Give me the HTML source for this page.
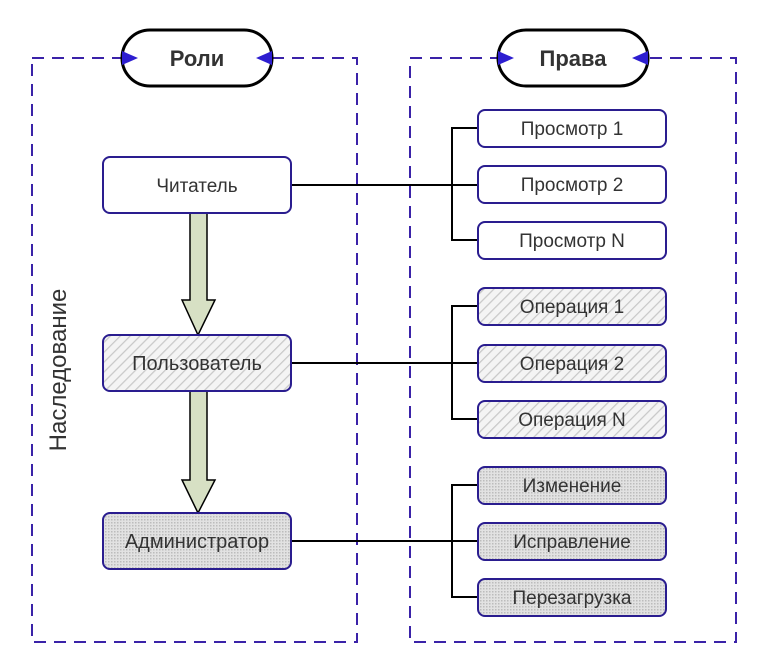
<!DOCTYPE html>
<html><head><meta charset="utf-8"><style>body{margin:0;background:#fff}</style></head>
<body>
<svg width="763" height="665" xmlns="http://www.w3.org/2000/svg" font-family="Liberation Sans, DejaVu Sans, sans-serif">
<defs>
<pattern id="h" width="7" height="7" patternUnits="userSpaceOnUse" patternTransform="rotate(45)">
<rect width="7" height="7" fill="#f4f4f4"/><line x1="0" y1="0" x2="0" y2="7" stroke="#c8c8c8" stroke-width="2.5"/></pattern>
<pattern id="x" width="3" height="3" patternUnits="userSpaceOnUse">
<rect width="3" height="3" fill="#e2e2e2"/><rect width="1.5" height="1.5" fill="#bcbcbc"/></pattern>
</defs>
<g fill="none" stroke="#3a22a8" stroke-width="2" stroke-dasharray="12,8">
<rect x="32" y="58" width="325" height="584"/>
<rect x="410" y="58" width="326" height="584"/>
</g>
<g stroke="#000" stroke-width="3" fill="#fff">
<rect x="122" y="30" width="150" height="56" rx="28"/>
<rect x="498" y="30" width="150" height="56" rx="28"/>
</g>
<g fill="#2d1ed0">
<polygon points="122,51 138,58 122,65"/><polygon points="272,51 256,58 272,65"/>
<polygon points="498,51 514,58 498,65"/><polygon points="648,51 632,58 648,65"/>
</g>
<g font-weight="bold" font-size="22" fill="#333" text-anchor="middle">
<text x="197" y="66">Роли</text><text x="573" y="66">Права</text></g>
<g stroke="#000" stroke-width="2" fill="none">
<line x1="291" y1="185" x2="478" y2="185"/>
<polyline points="478,128 452,128 452,240 478,240"/>
<line x1="291" y1="363" x2="478" y2="363"/>
<polyline points="478,306 452,306 452,419 478,419"/>
<line x1="291" y1="541" x2="478" y2="541"/>
<polyline points="478,485 452,485 452,597 478,597"/>
</g>
<g fill="#d7e0c4" stroke="#000" stroke-width="1.5">
<polygon points="190,213 207,213 207,300 215,300 198,335 182,300 190,300"/>
<polygon points="190,391 207,391 207,480 215,480 198,513 182,480 190,480"/>
</g>
<g stroke="#2a1d8f" stroke-width="2">
<rect x="103" y="157" width="188" height="56" rx="7" fill="#fff"/>
<rect x="103" y="335" width="188" height="56" rx="7" fill="url(#h)"/>
<rect x="103" y="513" width="188" height="56" rx="7" fill="url(#x)"/>
<rect x="478" y="110" width="188" height="37" rx="7" fill="#fff"/>
<rect x="478" y="166" width="188" height="37" rx="7" fill="#fff"/>
<rect x="478" y="222" width="188" height="37" rx="7" fill="#fff"/>
<rect x="478" y="288" width="188" height="37" rx="7" fill="url(#h)"/>
<rect x="478" y="345" width="188" height="37" rx="7" fill="url(#h)"/>
<rect x="478" y="401" width="188" height="37" rx="7" fill="url(#h)"/>
<rect x="478" y="467" width="188" height="37" rx="7" fill="url(#x)"/>
<rect x="478" y="523" width="188" height="37" rx="7" fill="url(#x)"/>
<rect x="478" y="579" width="188" height="37" rx="7" fill="url(#x)"/>
</g>
<g fill="#333" text-anchor="middle" font-size="19">
<text x="197" y="192">Читатель</text>
<text x="197" y="370" font-size="20">Пользователь</text>
<text x="197" y="548" font-size="20">Администратор</text>
<text x="572" y="135">Просмотр 1</text>
<text x="572" y="191">Просмотр 2</text>
<text x="572" y="247">Просмотр N</text>
<text x="572" y="313">Операция 1</text>
<text x="572" y="370">Операция 2</text>
<text x="572" y="426">Операция N</text>
<text x="572" y="492">Изменение</text>
<text x="572" y="548">Исправление</text>
<text x="572" y="604">Перезагрузка</text>
<text x="0" y="0" font-size="24" transform="translate(66,370) rotate(-90)">Наследование</text>
</g>
</svg>
</body></html>
